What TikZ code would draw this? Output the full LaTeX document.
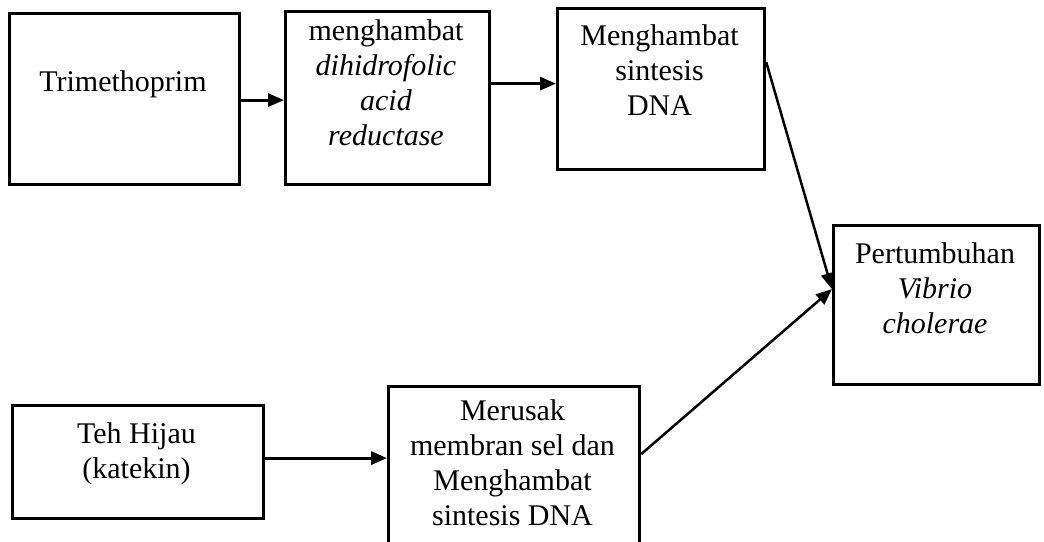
\documentclass[tikz,border=0pt]{standalone}
\usepackage{fontspec}
\setmainfont{Liberation Serif}
\usetikzlibrary{arrows.meta,calc}
\tikzset{
  box/.style={draw=black, line width=3.2pt, rectangle, inner sep=0pt, anchor=north west},
  txt/.style={anchor=north, yshift=24.5pt, inner sep=0pt, align=center, font=\fontsize{30}{35}\selectfont},
  arr/.style={draw=black, line width=3pt, -{Triangle[length=16pt,width=13pt]}},
  arrs/.style={draw=black, line width=2.5pt, -{Triangle[length=16pt,width=13pt]}}
}
\begin{document}
\begin{tikzpicture}[x=1pt,y=-1pt]
\useasboundingbox (0,0) rectangle (1044,541);
\fill[white] (0,0) rectangle (1044,541);
\clip (0,0) rectangle (1044,541);
% boxes
\node[box, minimum width=230pt, minimum height=171pt] (A) at (8,12) {};
\node[box, minimum width=204pt, minimum height=173pt] (B) at (284,10) {};
\node[box, minimum width=207pt, minimum height=161pt] (C) at (556,7) {};
\node[box, minimum width=206pt, minimum height=159pt] (D) at (832,224) {};
\node[box, minimum width=251pt, minimum height=113pt] (E) at (11,404) {};
\node[box, minimum width=251pt, minimum height=175pt] (F) at (387,385) {};
% texts
\node[txt] (At) at (123,91) {\strut Trimethoprim};
\node[txt] (Bt) at (386,40) {\strut menghambat\\ \textit{dihidrofolic}\\ \textit{acid}\\ \textit{reductase}};
\node[txt] (Ct) at (659.5,45) {\strut Menghambat\\ sintesis\\ DNA};
\node[txt] (Dt) at (935,263) {\strut Pertumbuhan\\ \textit{Vibrio}\\ \textit{cholerae}};
\node[txt] (Et) at (136.5,443) {\strut Teh Hijau\\ (katekin)};
\node[txt] (Ft) at (512.5,420) {\strut Merusak\\ membran sel dan\\ Menghambat\\ sintesis DNA};
% connectors
\draw[arr] ([yshift=-1pt]A.east) -- ([yshift=-1pt]A.east -| B.west);
\draw[arr] ([yshift=5.5pt]C.west -| B.east) -- ([yshift=5.5pt]C.west);
\draw[arrs] ([yshift=27pt]C.east) -- ([yshift=16pt]D.west);
\draw[arrs] ([yshift=20pt]F.east) -- ([yshift=16pt]D.west);
\draw[arr] ([yshift=4pt]E.east) -- ([yshift=4pt]E.east -| F.west);
\end{tikzpicture}
\end{document}
